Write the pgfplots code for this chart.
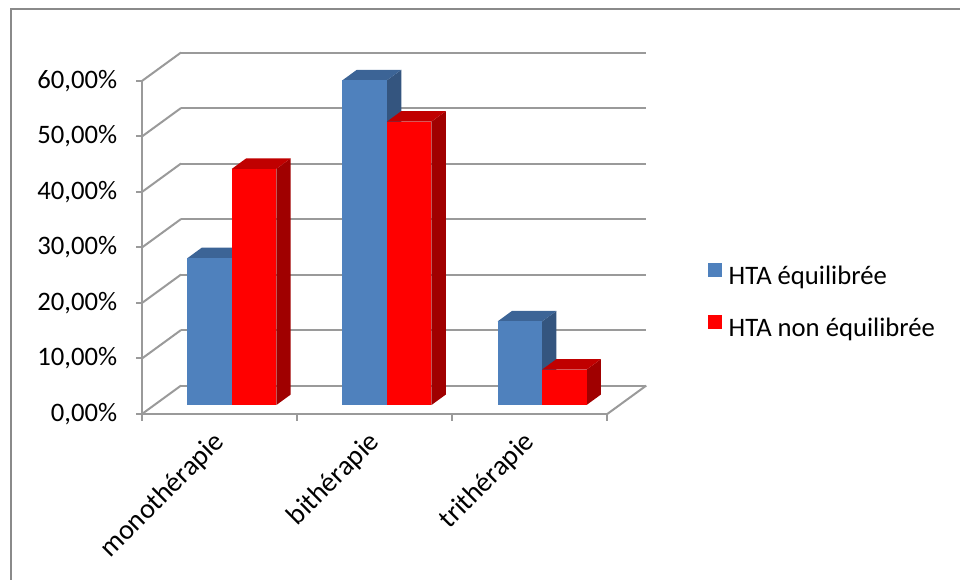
\documentclass[border=0pt]{standalone}
\usepackage{pgfplots}
\pgfplotsset{compat=1.18}
\usepackage{pgfplotstable}
\usepackage{fontspec}
\setmainfont{Carlito}

\definecolor{bfront}{HTML}{4F81BD}
\definecolor{btop}{HTML}{3C6496}
\definecolor{bside}{HTML}{34557F}
\definecolor{rfront}{HTML}{FF0000}
\definecolor{rtop}{HTML}{C00000}
\definecolor{rside}{HTML}{A00000}
\definecolor{gridc}{HTML}{9A9A9A}
\definecolor{framec}{HTML}{8A8A8A}

% values in percent
\pgfplotstableread{
idx eq neq
0 26.45 42.55
1 58.50 51.06
2 15.05 6.38
}\datatable

\def\FX{0.0795}\def\FY{1.62}
\def\BDX{0.0925}\def\BDY{1.885}
\def\BW{0.287}

\newcommand{\threedbar}[5]{%
  \pgfmathsetmacro\xa{#1}%
  \pgfmathsetmacro\xb{#1+\BW}%
  \pgfmathsetmacro\xc{#1+\BW+\BDX}%
  \pgfmathsetmacro\xd{#1+\BDX}%
  \pgfmathsetmacro\yb{\FY+#2}%
  \pgfmathsetmacro\yc{\FY+#2+\BDY}%
  \pgfmathsetmacro\yd{\FY+\BDY}%
  \addplot[forget plot, draw=none, fill=#5] coordinates {(\xb,\FY) (\xb,\yb) (\xc,\yc) (\xc,\yd)};
  \addplot[forget plot, draw=none, fill=#4] coordinates {(\xa,\yb) (\xd,\yc) (\xc,\yc) (\xb,\yb)};
  \addplot[forget plot, draw=none, fill=#3] coordinates {(\xa,\FY) (\xb,\FY) (\xb,\yb) (\xa,\yb)};
}

\begin{document}
\begin{tikzpicture}
\useasboundingbox (0,0) rectangle (720pt,435pt);
\draw[framec, line width=1.5pt] (8.25pt,-2pt) -- (8.25pt,428pt) -- (722pt,428pt);
\begin{axis}[
  at={(106.5pt,124.5pt)}, anchor=south west,
  scale only axis, width=378.2pt, height=271.1pt,
  xmin=0, xmax=3.2515, ymin=0, ymax=65.12,
  clip=false,
  axis line style={draw=none},
  tick style={draw=none},
  major tick length=0pt,
  xtick={0.5,1.5,2.5},
  xticklabels={monothérapie,bithérapie,trithérapie},
  ytick={0,10,20,30,40,50,60},
  yticklabels={{0,00\%},{10,00\%},{20,00\%},{30,00\%},{40,00\%},{50,00\%},{60,00\%}},
  xtick pos=left, ytick pos=left,
  tick label style={font=\fontsize{20}{24}\selectfont, text=black},
  yticklabel style={anchor=east, inner sep=0pt, xshift=-18.4pt},
  xticklabel style={rotate=45, anchor=east, inner sep=0pt, font=\fontsize{21}{25}\selectfont, xshift=-12.4pt, yshift=-13.2pt},
  legend style={draw=none, fill=none, at={(1.113,0.31)}, anchor=west,
    font=\fontsize{20}{24}\selectfont, row sep=19pt, column sep=3.75pt},
  legend cell align=left,
]
\addlegendimage{legend image code/.code={\fill[bfront] (0pt,0pt) rectangle (9.75pt,9.75pt);}}
\addlegendentry{HTA équilibrée}
\addlegendimage{legend image code/.code={\fill[rfront] (0pt,0pt) rectangle (9.75pt,9.75pt);}}
\addlegendentry{HTA non équilibrée}

% back wall gridlines
\draw[gridc, line width=1.5pt] (axis cs:0.2515,5.12) -- (axis cs:3.2515,5.12);
\draw[gridc, line width=1.5pt] (axis cs:0.2515,15.12) -- (axis cs:3.2515,15.12);
\draw[gridc, line width=1.5pt] (axis cs:0.2515,25.12) -- (axis cs:3.2515,25.12);
\draw[gridc, line width=1.5pt] (axis cs:0.2515,35.12) -- (axis cs:3.2515,35.12);
\draw[gridc, line width=1.5pt] (axis cs:0.2515,45.12) -- (axis cs:3.2515,45.12);
\draw[gridc, line width=1.5pt] (axis cs:0.2515,55.12) -- (axis cs:3.2515,55.12);
\draw[gridc, line width=1.5pt] (axis cs:0.2515,65.12) -- (axis cs:3.2515,65.12);
% side wall diagonals
\draw[gridc, line width=1.5pt] (axis cs:0,0) -- (axis cs:0.2515,5.12);
\draw[gridc, line width=1.5pt] (axis cs:0,10) -- (axis cs:0.2515,15.12);
\draw[gridc, line width=1.5pt] (axis cs:0,20) -- (axis cs:0.2515,25.12);
\draw[gridc, line width=1.5pt] (axis cs:0,30) -- (axis cs:0.2515,35.12);
\draw[gridc, line width=1.5pt] (axis cs:0,40) -- (axis cs:0.2515,45.12);
\draw[gridc, line width=1.5pt] (axis cs:0,50) -- (axis cs:0.2515,55.12);
\draw[gridc, line width=1.5pt] (axis cs:0,60) -- (axis cs:0.2515,65.12);
% floor right edge
\draw[gridc, line width=1.5pt] (axis cs:3,0) -- (axis cs:3.2515,5.12);
% front axes
\draw[gridc, line width=1.5pt] (axis cs:0,60) -- (axis cs:0,0) -- (axis cs:3,0);
\draw[gridc, line width=1.5pt] (axis cs:0,0) -- ++(-4.5pt,0pt);
\draw[gridc, line width=1.5pt] (axis cs:0,10) -- ++(-4.5pt,0pt);
\draw[gridc, line width=1.5pt] (axis cs:0,20) -- ++(-4.5pt,0pt);
\draw[gridc, line width=1.5pt] (axis cs:0,30) -- ++(-4.5pt,0pt);
\draw[gridc, line width=1.5pt] (axis cs:0,40) -- ++(-4.5pt,0pt);
\draw[gridc, line width=1.5pt] (axis cs:0,50) -- ++(-4.5pt,0pt);
\draw[gridc, line width=1.5pt] (axis cs:0,60) -- ++(-4.5pt,0pt);
\draw[gridc, line width=1.5pt] (axis cs:0,0) -- ++(0pt,-5.5pt);
\draw[gridc, line width=1.5pt] (axis cs:1,0) -- ++(0pt,-5.5pt);
\draw[gridc, line width=1.5pt] (axis cs:2,0) -- ++(0pt,-5.5pt);
\draw[gridc, line width=1.5pt] (axis cs:3,0) -- ++(0pt,-5.5pt);

% 3D bars
\pgfplotsinvokeforeach{0,1,2}{
  \pgfplotstablegetelem{#1}{eq}\of\datatable \let\veq\pgfplotsretval
  \pgfplotstablegetelem{#1}{neq}\of\datatable \let\vneq\pgfplotsretval
  \pgfmathsetmacro\xl{#1+0.5+\FX-\BW}
  \pgfmathsetmacro\xr{#1+0.5+\FX}
  \threedbar{\xl}{\veq}{bfront}{btop}{bside}
  \threedbar{\xr}{\vneq}{rfront}{rtop}{rside}
}
\end{axis}
\end{tikzpicture}
\end{document}
